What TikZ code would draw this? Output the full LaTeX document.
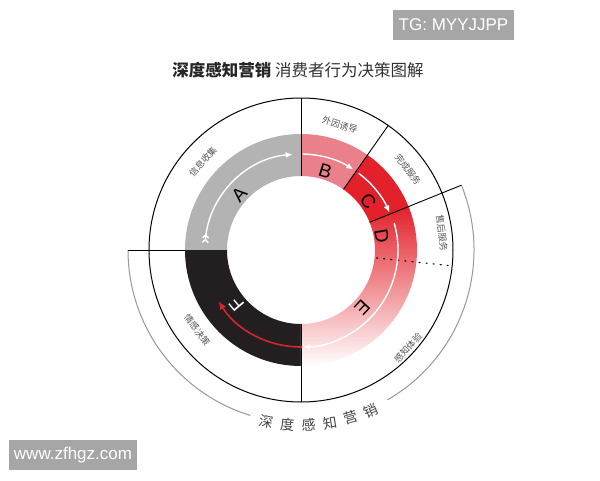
\documentclass[tikz,border=0pt]{standalone}
\usepackage{fontspec}
\setmainfont{Liberation Sans}
\newfontfamily\cjk{Noto Sans CJK SC}
\usetikzlibrary{arrows.meta}
\definecolor{ringgray}{HTML}{B3B3B3}
\definecolor{ringpink}{HTML}{E9808A}
\definecolor{ringred}{HTML}{E2212A}
\definecolor{ringblack}{HTML}{231F20}
\definecolor{labelgray}{HTML}{555555}
\definecolor{titlegray}{HTML}{333333}
\definecolor{markgray}{HTML}{A6A6A6}
\definecolor{arrowred}{HTML}{D3262D}
\definecolor{arcgray}{HTML}{999999}
\tikzset{
    divider/.style={draw=black, line width=0.9pt},
    band/.style={font=\cjk\fontsize{9}{9}\selectfont, text=labelgray, inner sep=0pt},
    letter/.style={font=\fontsize{19}{19}\selectfont, inner sep=0pt},
    flow/.style={white, line width=1.4pt},
    watermark/.style={fill=markgray, text=white, inner sep=0pt,
        font=\fontsize{17}{17}\selectfont}
}

\begin{document}
\begin{tikzpicture}[x=1pt, y=1pt]
  \fill[white] (-301,-230) rectangle (299,250);
  \useasboundingbox (-301,-230) rectangle (299,250);

  % ring parts
  \foreach \from/\to/\col in {90/180/ringgray, 55/90/ringpink, 22/55/ringred, 180/270/ringblack}
    \fill[\col] (\from:116) arc[start angle=\from, end angle=\to, radius=116]
      -- (\to:74) arc[start angle=\to, end angle=\from, radius=74] -- cycle;
  \shade[top color=ringred, middle color=ringred!62!white, bottom color=white]
    (22:116) arc[start angle=22, end angle=-90, radius=116]
    -- (-90:74) arc[start angle=-90, end angle=22, radius=74] -- cycle;

  % circles and dividers
  \draw[line width=1pt] (0,0) circle[radius=152];
  \draw[arcgray, line width=1pt] (180:173) arc[start angle=180, end angle=253, radius=173];
  \draw[arcgray, line width=1pt] (-60:173) arc[start angle=-60, end angle=22, radius=173];
  \draw[divider] (90:74) -- (90:152);
  \draw[divider] (55:74) -- (55:152);
  \draw[divider] (22:74) -- (22:173);
  \draw[divider] (180:116) -- (180:173);
  \draw[divider] (270:74) -- (270:152);
  \draw[line width=1.1pt, dash pattern=on 1.1pt off 6pt, line cap=round] (-6:76) -- (-6:148);

  % letters
  \node (A) [letter, rotate=48] at (138:83) {A};
  \node (B) [letter, rotate=-17] at (73:83) {B};
  \node (C) [letter, rotate=-54] at (36:83) {C};
  \node (D) [letter, rotate=-80] at (10:82) {D};
  \node (E) [letter, rotate=-133] at (-43:84) {E};
  \node (F) [letter, white, rotate=130] at (220:84) {F};

  % band labels
  \node (collect) [band, rotate=48] at (138:132) {信息收集};
  \node (induce) [band, rotate=-17] at (72.7:131) {外因诱导};
  \node (finish) [band, rotate=-53] at (37:134) {完成服务};
  \node (after) [band, rotate=-83] at (7:142) {售后服务};
  \node (sense) [band, rotate=47.5] at (-42.5:145) {感知体验};
  \node (decide) [band, rotate=-52.4] at (217.6:131) {情感决策};

  % flow arrows
  \draw[flow, {Straight Barb[reversed, length=3pt, width=6pt] Straight Barb[reversed, length=3pt, width=6pt]}-{Latex[length=7pt, width=6pt]}]
    (176:96) arc[start angle=176, end angle=95, radius=96];
  \draw[flow, -{Latex[length=7pt, width=6pt]}] (89:96) arc[start angle=89, end angle=57, radius=96];
  \draw[flow, -{Latex[length=7pt, width=6pt]}] (53:96) arc[start angle=53, end angle=23, radius=96];
  \draw[flow, -{Latex[length=7pt, width=6pt]}] (16:97) arc[start angle=16, end angle=-89, radius=97];
  \draw[arrowred, line width=1.6pt, -{Latex[length=8pt, width=7pt]}]
    (270.5:97) arc[start angle=270.5, end angle=212, radius=97];

  % bottom caption along the arc
  \foreach \ch [count=\i, evaluate=\i as \ang using -108.5+7*\i] in {深,度,感,知,营,销}
    \node (deep\i) [font=\cjk\fontsize{14}{14}\selectfont, text=labelgray!80!black,
      rotate=\ang+90] at (\ang:175) {\ch};

  % title and marks
  \node (title) [font=\cjk\fontsize{16.5}{16.5}\selectfont, text=titlegray] at (-3,180)
    {{\bfseries\color{black!85}深度感知营销}\ 消费者行为决策图解};
  \node (tg) [watermark, minimum width=121pt, minimum height=30pt] at (152.5,225) {TG: MYYJJPP};
  \node (site) [watermark, minimum width=128pt, minimum height=30pt] at (-228,-205) {www.zfhgz.com};
\end{tikzpicture}
\end{document}
